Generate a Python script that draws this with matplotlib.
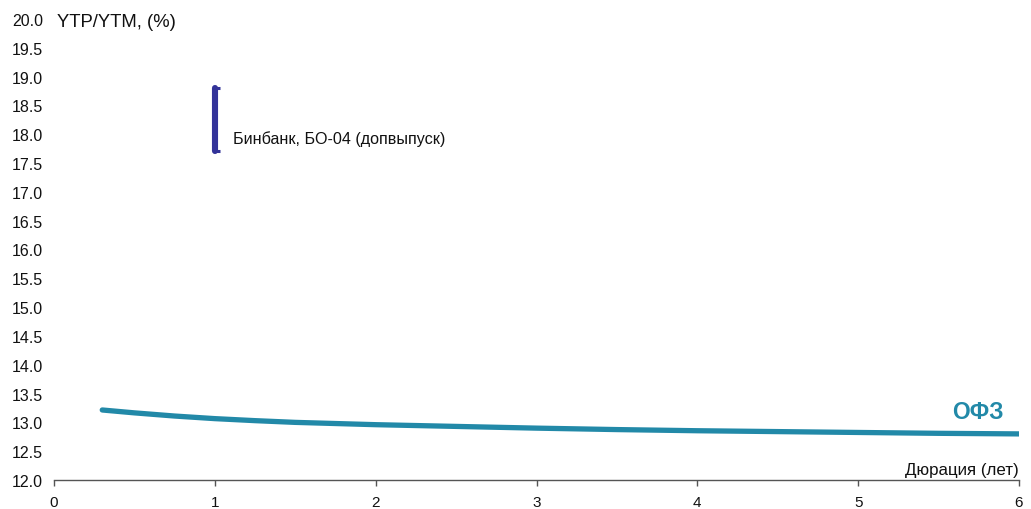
import matplotlib
matplotlib.use("Agg")
import matplotlib.pyplot as plt
from matplotlib.markers import TICKRIGHT

plt.rcParams['font.family'] = ['Liberation Sans', 'DejaVu Sans']

# OFZ yield curve (duration in years, yield in %)
ofz_duration = [0.3, 0.5, 0.75, 1.0, 1.25, 1.5, 2.0, 2.5, 3.0, 3.5, 4.0, 4.5,
                5.0, 5.5, 6.0]
ofz_yield = [13.215, 13.165, 13.11, 13.065, 13.03, 13.0, 12.96, 12.93, 12.90,
             12.875, 12.855, 12.84, 12.825, 12.81, 12.80]

# Placement range for the bond issue
bond_name = "Бинбанк, БО-04 (допвыпуск)"
bond_duration = 1.0
bond_low = 17.71
bond_high = 18.80

x_ticks = [0, 1, 2, 3, 4, 5, 6]
y_ticks = [12.0, 12.5, 13.0, 13.5, 14.0, 14.5, 15.0, 15.5, 16.0, 16.5, 17.0,
           17.5, 18.0, 18.5, 19.0, 19.5, 20.0]

ofz_color = "#2289a8"
bond_color = "#333399"

fig = plt.figure(figsize=(10.31, 5.10), dpi=100)
ax = fig.add_axes([54 / 1031, 29 / 510, 965 / 1031, 461 / 510])

ax.plot(ofz_duration, ofz_yield, color=ofz_color, lw=3.8,
        solid_capstyle='round', solid_joinstyle='round')
ax.vlines(bond_duration, bond_low, bond_high, color=bond_color, lw=4.4,
          capstyle='round')
ax.plot([bond_duration, bond_duration], [bond_low, bond_high], ls='none',
        marker=TICKRIGHT, markersize=3.5, mew=2.2, color=bond_color)

ax.set_xlim(0, 6)
ax.set_ylim(12.0, 20.0)
ax.set_xticks(x_ticks)
ax.set_xticklabels([str(t) for t in x_ticks])
ax.set_yticks(y_ticks)
ax.set_yticklabels([f"{t:.1f}" for t in y_ticks])

for side in ('top', 'right', 'left'):
    ax.spines[side].set_visible(False)
ax.spines['bottom'].set_color('#555555')
ax.spines['bottom'].set_linewidth(1.0)
ax.tick_params(axis='y', length=0, pad=8, labelsize=11.5, labelcolor='#111111')
ax.tick_params(axis='x', length=4, width=1.0, color='#555555', pad=6.5,
               labelsize=11, labelcolor='#111111')

ax.text(0.02, 19.95, "YTP/YTM, (%)", fontsize=13.3, va='center', ha='left',
        color='#111111')
ax.text(6.0, 12.10, "Дюрация (лет)", fontsize=12.2, va='baseline', ha='right',
        color='#111111')
ax.text(5.746, 13.19, "ОФЗ", fontsize=16.5, fontweight='bold', va='center',
        ha='center', color=ofz_color)
ax.text(1.11, 17.94, bond_name, fontsize=11.6, va='center', ha='left',
        color='#111111')

fig.savefig("out.png", dpi=100)
